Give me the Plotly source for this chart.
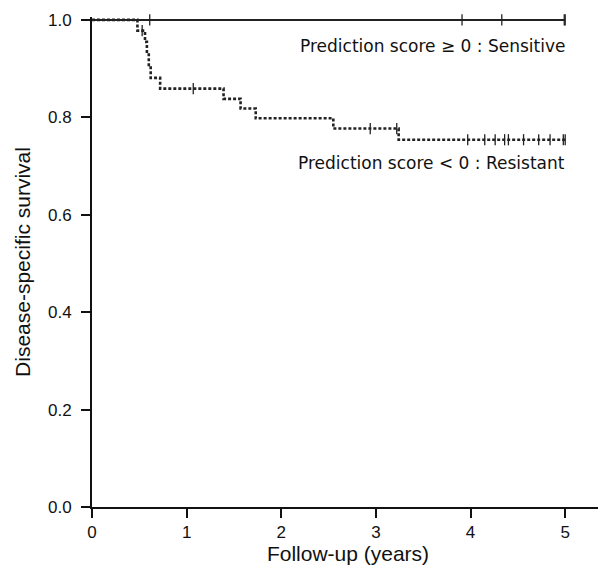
import plotly.graph_objects as go

# Resistant group (prediction score < 0): KM step curve
res_time = [0, 0.48, 0.56, 0.58, 0.60, 0.62, 0.72, 1.39, 1.57, 1.73, 2.55, 3.24, 5.0]
res_surv = [1.0, 0.978, 0.955, 0.932, 0.905, 0.881, 0.859, 0.838, 0.818, 0.798, 0.777, 0.754, 0.754]
res_cens_time = [0.53, 1.07, 2.94, 3.22, 3.97, 4.15, 4.26, 4.36, 4.40, 4.56, 4.72, 4.84, 4.98, 5.0]
res_cens_surv = [0.978, 0.859, 0.777, 0.777, 0.754, 0.754, 0.754, 0.754, 0.754, 0.754, 0.754, 0.754, 0.754, 0.754]

# Sensitive group (prediction score >= 0)
sen_time = [0, 5.0]
sen_surv = [1.0, 1.0]
sen_cens_time = [0.61, 3.91, 4.33, 4.99, 5.0]
sen_cens_surv = [1.0, 1.0, 1.0, 1.0, 1.0]

x_ticks = [0, 1, 2, 3, 4, 5]
y_ticks = [0.0, 0.2, 0.4, 0.6, 0.8, 1.0]
y_tick_labels = ["0.0", "0.2", "0.4", "0.6", "0.8", "1.0"]

labels = ["Prediction score ≥ 0 : Sensitive", "Prediction score < 0 : Resistant"]
label_y = [0.947, 0.706]

fig = go.Figure()
fig.add_trace(go.Scatter(x=sen_time, y=sen_surv, mode="lines", line_shape="hv",
                         line=dict(color="#222222", width=2), showlegend=False, hoverinfo="skip"))
fig.add_trace(go.Scatter(x=res_time, y=res_surv, mode="lines", line_shape="hv",
                         line=dict(color="#222222", width=2.6, dash="3px,2px"), showlegend=False, hoverinfo="skip"))
fig.add_trace(go.Scatter(x=sen_cens_time, y=sen_cens_surv, mode="markers",
                         marker=dict(symbol="line-ns", size=8, line=dict(color="#222222", width=1.3)),
                         showlegend=False, hoverinfo="skip", cliponaxis=False))
fig.add_trace(go.Scatter(x=res_cens_time, y=res_cens_surv, mode="markers",
                         marker=dict(symbol="line-ns", size=8, line=dict(color="#222222", width=1.3)),
                         showlegend=False, hoverinfo="skip", cliponaxis=False))

for txt, yy in zip(labels, label_y):
    fig.add_annotation(x=5.02, y=yy, text=txt, showarrow=False, xanchor="right", yanchor="middle",
                       font=dict(family="DejaVu Sans", size=17, color="#111111"))

fig.update_layout(
    width=598, height=561,
    margin=dict(l=84, r=2, t=9, b=62),
    paper_bgcolor="white", plot_bgcolor="white",
    font=dict(family="Liberation Sans", color="#111111"),
)
fig.update_xaxes(range=[0, 5.41], tickvals=x_ticks, ticks="outside", ticklen=9, tickwidth=2,
                 tickcolor="#111111", showline=True, linecolor="#111111", linewidth=2,
                 showgrid=False, zeroline=False, tickfont=dict(family="Liberation Sans", size=17),
                 ticklabelstandoff=0,
                 title=dict(text="Follow-up (years)", font=dict(family="Liberation Sans", size=21), standoff=4))
fig.update_yaxes(range=[0, 1.006], tickvals=y_ticks, ticktext=y_tick_labels, ticks="outside", ticklen=9,
                 tickwidth=2, tickcolor="#111111", showline=True, linecolor="#111111", linewidth=2,
                 showgrid=False, zeroline=False, tickfont=dict(family="Liberation Sans", size=17),
                 ticklabelstandoff=6,
                 title=dict(text="Disease-specific survival", font=dict(family="Liberation Sans", size=21), standoff=12))

fig.write_html("out.html")
